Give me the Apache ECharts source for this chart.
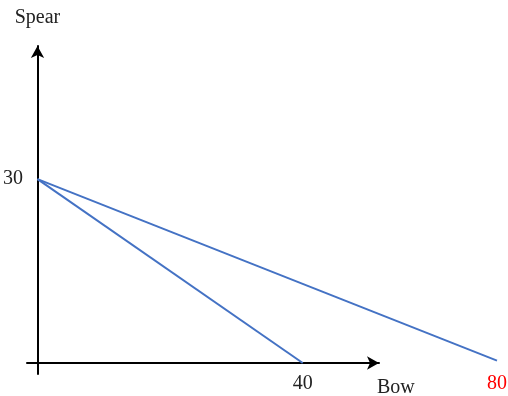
<!DOCTYPE html>
<html><head><meta charset="utf-8">
<script src="https://cdn.jsdelivr.net/npm/echarts@6/dist/echarts.min.js"></script>
<style>html,body{margin:0;padding:0;background:#fff}#c{width:508px;height:396px}</style>
</head><body><div id="c"></div>
<script>
const lineA_bow = [0, 40];
const lineA_spear = [30, 0];
const lineB_bow = [0, 80];
const lineB_spear = [30, 0.4];
const spearTicks = [30];
const bowTicksA = [40];
const bowTicksB = [80];

const FONT = 'Liberation Serif';
const yMin = -1.79, yMax = 51.7;
const chart = echarts.init(document.getElementById('c'));
const blue = '#4472C4';
chart.setOption({
  animation: false,
  grid: [
    {left: 27, top: 46, width: 352, height: 328, containLabel: false, outerBoundsMode: 'none'},
    {left: 37.5, top: 46, width: 459.5, height: 328, containLabel: false, outerBoundsMode: 'none'}
  ],
  xAxis: [
    {type: 'value', gridIndex: 0, min: -1.585, max: 51.5,
     axisLine: {onZero: true, lineStyle: {color: '#000', width: 2}, symbol: ['none', 'arrow'], symbolSize: [10, 12]},
     axisTick: {show: false}, splitLine: {show: false},
     axisLabel: {customValues: bowTicksA, margin: 0, color: '#222', fontFamily: FONT, fontSize: 20},
     name: 'Bow', nameLocation: 'end', nameGap: -2,
     nameTextStyle: {color: '#222', fontFamily: FONT, fontSize: 20, align: 'left', verticalAlign: 'top', padding: [15, 0, 0, 0]}
    },
    {type: 'value', gridIndex: 1, min: 0, max: 80,
     axisLine: {show: false, onZero: true}, axisTick: {show: false}, splitLine: {show: false},
     axisLabel: {customValues: bowTicksB, margin: 0, color: '#ff0000', fontFamily: FONT, fontSize: 20}
    }
  ],
  yAxis: [
    {type: 'value', gridIndex: 0, min: yMin, max: yMax,
     axisLine: {show: true, onZero: true, lineStyle: {color: '#000', width: 2}, symbol: ['none', 'arrow'], symbolSize: [10, 12]},
     axisTick: {show: false}, splitLine: {show: false},
     axisLabel: {customValues: spearTicks, margin: 4, color: '#222', fontFamily: FONT, fontSize: 20},
     name: 'Spear', nameLocation: 'end', nameGap: 28,
     nameTextStyle: {color: '#222', fontFamily: FONT, fontSize: 20, align: 'center', verticalAlign: 'middle'}
    },
    {type: 'value', gridIndex: 1, min: yMin, max: yMax, show: false, splitLine: {show: false}}
  ],
  series: [
    {type: 'line', xAxisIndex: 0, yAxisIndex: 0, symbol: 'none',
     lineStyle: {color: blue, width: 2},
     data: lineA_bow.map((v, i) => [v, lineA_spear[i]])},
    {type: 'line', xAxisIndex: 1, yAxisIndex: 1, symbol: 'none',
     lineStyle: {color: blue, width: 2},
     data: lineB_bow.map((v, i) => [v, lineB_spear[i]])}
  ]
});
</script></body></html>
